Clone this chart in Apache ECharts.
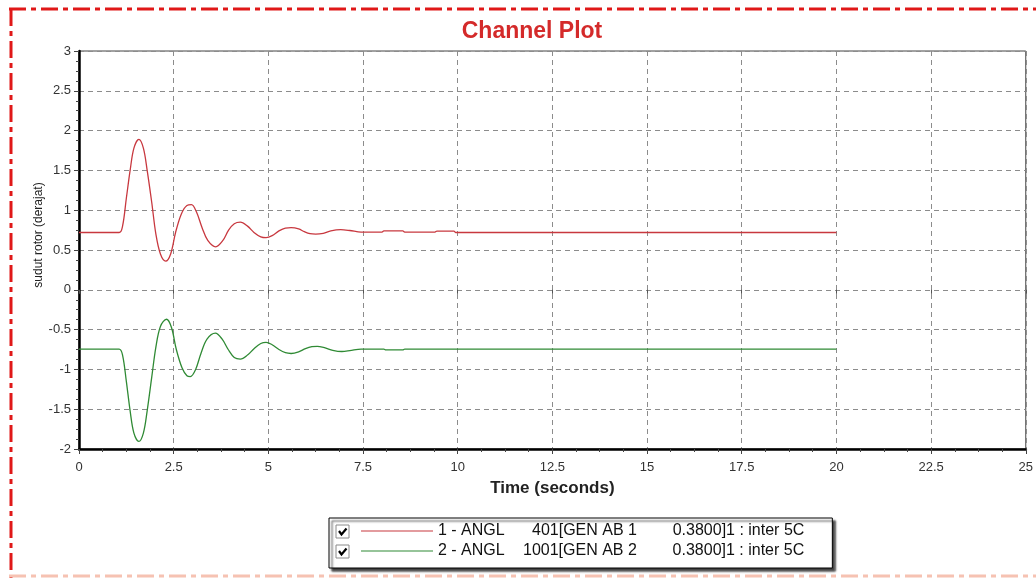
<!DOCTYPE html>
<html>
<head>
<meta charset="utf-8">
<script src="https://cdn.jsdelivr.net/npm/echarts@6/dist/echarts.min.js"></script>
<style>
html,body{margin:0;padding:0;background:#fff;}
#chart{width:1036px;height:578px;}
</style>
</head>
<body>
<div id="chart"></div>
<script>
// ---- data ----
const title = 'Channel Plot';
const xName = 'Time (seconds)';
const yName = 'sudut rotor (derajat)';
const seriesNames = [
  '1 - ANGL   401[GEN AB 1    0.3800]1 : inter 5C',
  '2 - ANGL  1001[GEN AB 2    0.3800]1 : inter 5C'
];
const legendParts = [
  ['1 - ANGL', '401', '[GEN AB 1', '0.3800]1 : inter 5C'],
  ['2 - ANGL', '1001', '[GEN AB 2', '0.3800]1 : inter 5C']
];
const tRed = [0, 1.06, 1.15, 1.25, 1.35, 1.45, 1.58, 1.70, 1.80, 1.92, 2.03, 2.15, 2.29, 2.42, 2.55, 2.70, 2.85, 2.97, 3.10, 3.25, 3.40, 3.61, 3.80, 3.95, 4.10, 4.26, 4.45, 4.62, 4.80, 4.94, 5.10, 5.28, 5.45, 5.60, 5.80, 5.95, 6.10, 6.25, 6.45, 6.65, 6.91, 7.15, 7.45, 8.00, 8.05, 8.55, 8.60, 9.40, 9.45, 9.90, 9.95, 20];
const vRed = [0.72, 0.72, 0.80, 1.15, 1.50, 1.78, 1.89, 1.78, 1.50, 1.10, 0.70, 0.45, 0.36, 0.45, 0.72, 0.95, 1.06, 1.07, 0.98, 0.78, 0.62, 0.54, 0.62, 0.75, 0.83, 0.85, 0.80, 0.72, 0.665, 0.655, 0.68, 0.74, 0.775, 0.78, 0.765, 0.73, 0.705, 0.70, 0.71, 0.74, 0.755, 0.745, 0.725, 0.725, 0.74, 0.74, 0.725, 0.725, 0.737, 0.737, 0.72, 0.72];
const tGreen = [0, 1.06, 1.15, 1.25, 1.35, 1.45, 1.58, 1.70, 1.80, 1.92, 2.03, 2.15, 2.31, 2.44, 2.57, 2.72, 2.85, 2.94, 3.08, 3.22, 3.38, 3.60, 3.78, 3.94, 4.10, 4.26, 4.45, 4.62, 4.80, 4.94, 5.10, 5.28, 5.45, 5.60, 5.80, 5.98, 6.15, 6.29, 6.50, 6.70, 6.94, 7.15, 7.45, 8.05, 8.10, 8.55, 8.60, 20];
const vGreen = [-0.745, -0.745, -0.82, -1.15, -1.52, -1.80, -1.905, -1.80, -1.52, -1.10, -0.72, -0.46, -0.37, -0.47, -0.75, -0.98, -1.08, -1.09, -1.00, -0.80, -0.62, -0.545, -0.62, -0.75, -0.85, -0.87, -0.82, -0.74, -0.675, -0.66, -0.69, -0.75, -0.79, -0.80, -0.78, -0.74, -0.715, -0.71, -0.73, -0.76, -0.775, -0.765, -0.745, -0.745, -0.755, -0.755, -0.745, -0.745];
const xMin = 0, xMax = 25, xStep = 2.5;
const yMin = -2, yMax = 3, yStep = 0.5;
const colors = ['#c8383f', '#2f8a34'];

const pair = (t, v) => t.map((x, i) => [x, v[i]]);

const chart = echarts.init(document.getElementById('chart'), null, {renderer: 'canvas'});
const font = 'Liberation Sans, Arial, sans-serif';

const checkbox = (y) => ([
  {type: 'rect', z: 100, shape: {x: 336, y: y, width: 13, height: 13}, style: {fill: '#fff', stroke: '#8a8a8a', lineWidth: 1}},
  {type: 'polyline', z: 101, shape: {points: [[339, y + 6], [341.5, y + 9.5], [346.5, y + 3.5]]}, style: {stroke: '#000', lineWidth: 2.2, fill: null}}
]);

const legendText = {fontFamily: font, fontSize: 16, color: '#111', lineHeight: 16};
const st = (extra) => Object.assign({}, legendText, extra);

const option = {
  backgroundColor: '#fff',
  animation: false,
  title: {
    text: title, left: 527, top: 15, textAlign: 'center',
    textStyle: {color: '#d42a2a', fontSize: 23, fontWeight: 'bold', fontFamily: font}
  },
  grid: {left: 79, right: 7, top: 51, bottom: 129, show: true, borderColor: '#444', borderWidth: 1, backgroundColor: '#fff'},
  legend: {
    orient: 'vertical', left: 329, top: 518, z: 2,
    padding: [5, 28, 9, 32], itemGap: 4,
    itemWidth: 72, itemHeight: 1, icon: 'rect',
    backgroundColor: '#fff', borderColor: '#000', borderWidth: 1,
    shadowColor: 'rgba(0,0,0,0.75)', shadowBlur: 2, shadowOffsetX: 3, shadowOffsetY: 3,
    selectedMode: false,
    data: seriesNames,
    formatter: (name) => {
      const i = seriesNames.indexOf(name);
      const p = legendParts[i];
      return '{a' + i + '|' + p[0] + '}{b|' + p[1] + '}{c|' + p[2] + '}{d|' + p[3] + '}';
    },
    textStyle: st({
      rich: {
        a0: st({width: 94}),
        a1: st({width: 85}),
        b: st({}),
        c: st({width: 114}),
        d: st({})
      }
    })
  },
  xAxis: [{
    type: 'value', min: xMin, max: xMax, interval: xStep,
    name: xName, nameLocation: 'middle', nameGap: 31, nameMoveOverlap: false,
    nameTextStyle: {fontFamily: font, fontSize: 17, fontWeight: 'bold', color: '#222'},
    axisLine: {show: true, onZero: false, lineStyle: {color: '#000', width: 2.5}},
    axisTick: {show: true, length: 5, lineStyle: {color: '#444'}},
    minorTick: {show: true, splitNumber: 4, length: 3, lineStyle: {color: '#444'}},
    axisLabel: {fontFamily: font, fontSize: 13, color: '#333', margin: 12, formatter: v => String(v)},
    splitLine: {show: true, lineStyle: {color: '#8c8c8c', type: [5, 4], width: 1}}
  }, {
    type: 'value', position: 'top', min: xMin, max: xMax, interval: xStep,
    axisLine: {show: false}, axisLabel: {show: false}, splitLine: {show: false},
    axisTick: {show: true, inside: true, length: 4, lineStyle: {color: '#555'}}
  }],
  yAxis: [{
    type: 'value', min: yMin, max: yMax, interval: yStep,
    name: yName, nameLocation: 'middle', nameGap: 34, nameRotate: 90, nameMoveOverlap: false,
    nameTextStyle: {fontFamily: font, fontSize: 12, color: '#222', padding: [0, 0, 0, 30]},
    axisLine: {show: true, onZero: false, lineStyle: {color: '#000', width: 2.5}},
    axisTick: {show: true, length: 5, lineStyle: {color: '#444'}},
    minorTick: {show: true, splitNumber: 4, length: 3, lineStyle: {color: '#444'}},
    axisLabel: {fontFamily: font, fontSize: 13, color: '#333', margin: 8, formatter: v => String(v)},
    splitLine: {show: true, lineStyle: {color: '#8c8c8c', type: [5, 4], width: 1}}
  }],
  series: [{
    name: seriesNames[0], type: 'line', data: pair(tRed, vRed),
    showSymbol: false, smooth: 0.35, color: colors[0],
    lineStyle: {color: colors[0], width: 1.3}
  }, {
    name: seriesNames[1], type: 'line', data: pair(tGreen, vGreen),
    showSymbol: false, smooth: 0.35, color: colors[1],
    lineStyle: {color: colors[1], width: 1.3}
  }],
  graphic: [
    {type: 'line', z: 100, shape: {x1: 9, y1: 9, x2: 1036, y2: 9}, style: {stroke: '#e01818', lineWidth: 3, lineDash: [17, 5, 5, 5]}},
    {type: 'line', z: 100, shape: {x1: 11, y1: 9, x2: 11, y2: 578}, style: {stroke: '#e01818', lineWidth: 3, lineDash: [17, 5, 5, 5]}},
    {type: 'line', z: 100, shape: {x1: 9, y1: 576, x2: 1036, y2: 576}, style: {stroke: '#f6c2b2', lineWidth: 3, lineDash: [17, 5, 5, 5]}}
  ].concat(checkbox(525), checkbox(545))
};
chart.setOption(option);
</script>
</body>
</html>
